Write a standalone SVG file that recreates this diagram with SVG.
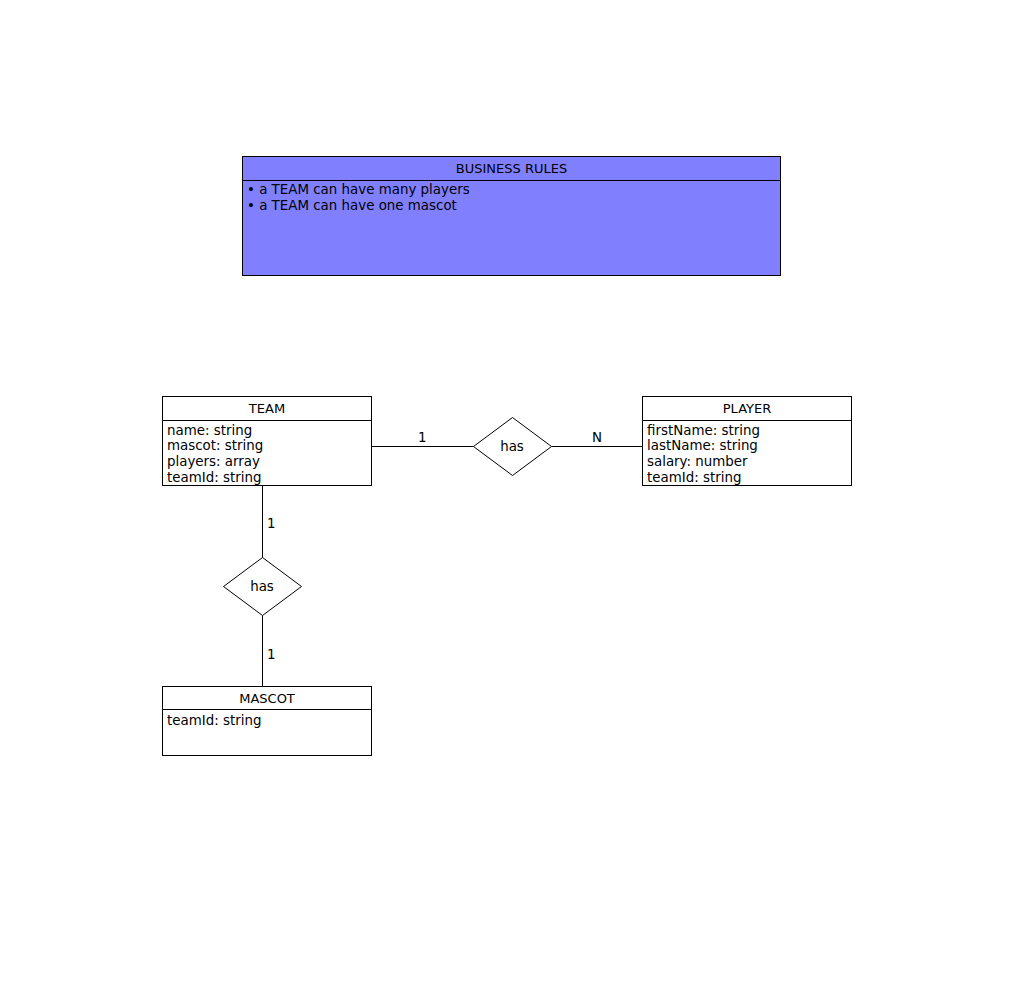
<svg xmlns="http://www.w3.org/2000/svg" width="1017" height="997" viewBox="0 0 1017 997">
  <style>
    .box { fill: #ffffff; stroke: #000000; stroke-width: 1; }
    .rules { fill: #8080ff; stroke: #000000; stroke-width: 1; }
    .sep { stroke: #000000; stroke-width: 1; }
    .edge { stroke: #000000; stroke-width: 1; fill: none; }
    text { font-family: "DejaVu Sans", "Liberation Sans", sans-serif; font-size: 13.4px; fill: #000000; }
    .title { text-anchor: middle; font-size: 13px; }
    .rel { text-anchor: middle; }
  </style>
  <rect width="1017" height="997" fill="#ffffff"/>

  <!-- business rules note -->
  <g id="business-rules">
    <rect class="rules" x="242.5" y="156.5" width="538" height="119"/>
    <line class="sep" x1="242.5" y1="180.5" x2="780.5" y2="180.5"/>
    <text class="title" x="511.5" y="173">BUSINESS RULES</text>
    <text x="247" y="194">• a TEAM can have many players</text>
    <text x="247" y="210">• a TEAM can have one mascot</text>
  </g>

  <!-- connectors -->
  <g id="connectors">
    <line class="edge" x1="371.5" y1="446.5" x2="473.5" y2="446.5"/>
    <line class="edge" x1="551.5" y1="446.5" x2="642.5" y2="446.5"/>
    <line class="edge" x1="262.5" y1="485.5" x2="262.5" y2="557.5"/>
    <line class="edge" x1="262.5" y1="615.5" x2="262.5" y2="686.5"/>
    <text x="418" y="442">1</text>
    <text x="592" y="442">N</text>
    <text x="267" y="528">1</text>
    <text x="267" y="659">1</text>
  </g>

  <!-- entities -->
  <g id="team">
    <rect class="box" x="162.5" y="396.5" width="209" height="89"/>
    <line class="sep" x1="162.5" y1="420.5" x2="371.5" y2="420.5"/>
    <text class="title" x="267" y="413">TEAM</text>
    <text x="167" y="435">name: string</text>
    <text x="167" y="450">mascot: string</text>
    <text x="167" y="466">players: array</text>
    <text x="167" y="482">teamId: string</text>
  </g>

  <g id="player">
    <rect class="box" x="642.5" y="396.5" width="209" height="89"/>
    <line class="sep" x1="642.5" y1="420.5" x2="851.5" y2="420.5"/>
    <text class="title" x="747" y="413">PLAYER</text>
    <text x="647" y="435">firstName: string</text>
    <text x="647" y="450">lastName: string</text>
    <text x="647" y="466">salary: number</text>
    <text x="647" y="482">teamId: string</text>
  </g>

  <g id="mascot">
    <rect class="box" x="162.5" y="686.5" width="209" height="69"/>
    <line class="sep" x1="162.5" y1="709.5" x2="371.5" y2="709.5"/>
    <text class="title" x="267" y="703">MASCOT</text>
    <text x="167" y="725">teamId: string</text>
  </g>

  <!-- relationships -->
  <g id="has-team-player">
    <polygon class="box" points="512.5,417.5 551.5,446.5 512.5,475.5 473.5,446.5"/>
    <text class="rel" x="512" y="451">has</text>
  </g>

  <g id="has-team-mascot">
    <polygon class="box" points="262.5,557.5 301.5,586.5 262.5,615.5 223.5,586.5"/>
    <text class="rel" x="262" y="591">has</text>
  </g>
</svg>
